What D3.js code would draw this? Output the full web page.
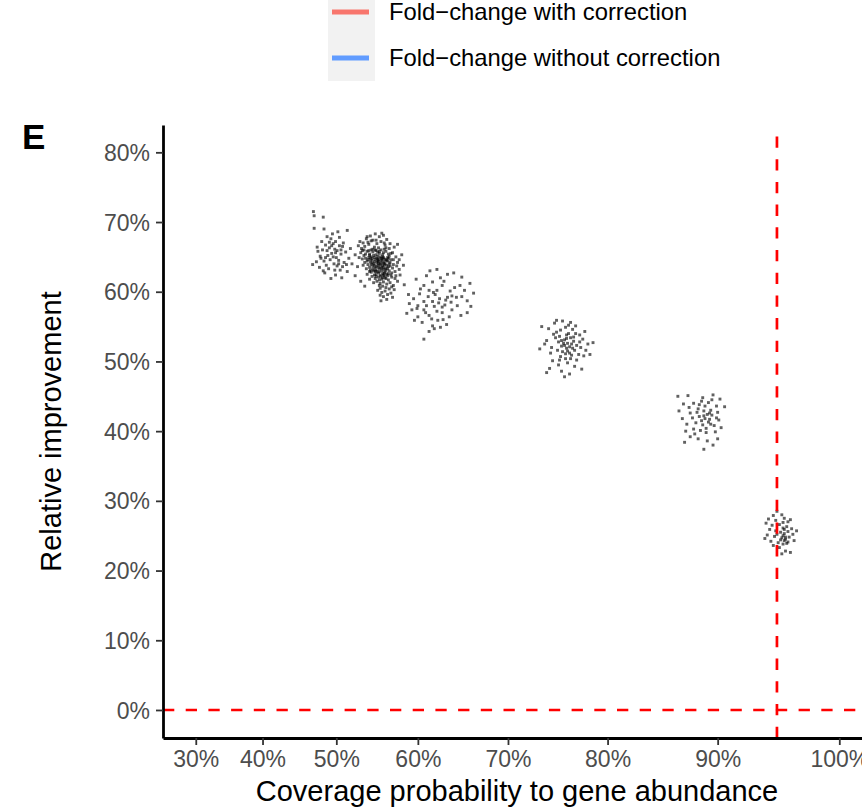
<!DOCTYPE html>
<html>
<head>
<meta charset="utf-8">
<script src="https://cdn.jsdelivr.net/npm/d3@7"></script>
<style>
  body { margin: 0; background: #fff; }
  text { font-family: "Liberation Sans", Arial, sans-serif; }
</style>
</head>
<body>
<div id="chart"></div>
<script>
const WIDTH = 862;
const HEIGHT = 808;

// x axis is exp-transformed (coverage, %), y is linear (improvement, %)
const xTicks = [30, 40, 50, 60, 70, 80, 90, 100];
const yTicks = [0, 10, 20, 30, 40, 50, 60, 70, 80];
const xLimits = [24.7, 102.45];
const yLimits = [-4.02, 83.92];
const refCoverage = 95;
const refImprovement = 0;

const legendItems = ["Fold\u2212change with correction", "Fold\u2212change without correction"];
const legendColors = ["#F8766D", "#619CFF"];

// [coverage %, relative improvement %], one array per cluster
const clusterA = [[47.0,71.5],[47.1,70.9],[48.3,70.7],[47.1,69.1],[48.4,69.0],[51.4,68.8],[48.8,67.9],[49.3,67.6],[49.9,67.2],[50.4,67.8],[49.6,66.9],[48.6,66.7],[50.8,66.5],[49.1,66.3],[49.8,66.1],[50.1,65.9],[48.2,66.0],[47.6,65.8],[51.2,65.7],[50.6,65.4],[49.4,65.5],[48.9,65.2],[47.9,65.1],[50.0,64.9],[51.6,64.8],[49.2,64.6],[48.4,64.4],[50.3,64.5],[51.0,64.2],[47.4,64.3],[49.7,64.0],[48.7,63.8],[50.8,63.6],[52.0,64.0],[49.0,63.3],[47.8,63.5],[50.5,63.1],[51.4,62.9],[48.5,62.7],[49.9,62.4],[48.1,67.2],[50.9,67.0],[47.5,66.4],[51.8,66.2],[49.5,68.3],[50.2,68.6],[48.0,64.8],[52.4,65.3],[46.9,63.9],[49.3,61.9],[50.7,62.0],[48.8,65.9],[49.6,65.0],[50.4,66.6],[51.3,63.9],[49.1,67.1],[48.3,63.0],[50.1,63.7],
  [49.4,66.6],[49.9,65.6],[50.6,66.0],[48.6,64.9],[49.8,63.1],[50.3,64.0]];

const clusterB = [[53.0,67.2],[53.4,67.0],[53.8,67.6],[54.3,68.0],[54.9,68.3],[55.4,67.9],[55.9,68.1],[56.3,67.5],[54.6,67.4],[53.6,66.5],[54.1,66.8],[55.1,66.9],[55.6,67.2],[56.1,66.7],[56.7,66.9],[54.8,66.4],[53.2,66.2],[55.3,66.3],[56.0,66.1],[54.4,66.0],[52.8,66.6],[57.2,66.4],[53.9,67.9],[55.7,68.4],
  [53.1,65.6],[53.5,65.2],[53.9,65.8],[54.2,65.4],[54.6,65.7],[55.0,65.9],[55.4,65.5],[55.8,65.3],[56.2,65.8],[56.6,65.1],[57.0,65.6],[53.7,64.8],[54.0,64.6],[54.4,65.0],[54.8,64.9],[55.2,65.1],[55.6,64.8],[56.0,64.7],[56.4,64.9],[56.8,64.6],[57.4,65.0],[52.9,64.9],[54.5,64.5],[55.3,64.6],[55.9,65.6],[54.1,65.9],[56.5,65.4],[53.3,64.7],
  [53.6,64.2],[54.0,63.9],[54.3,64.3],[54.7,64.0],[55.1,64.2],[55.5,63.9],[55.9,64.1],[56.3,63.8],[56.7,64.2],[57.1,63.9],[54.2,63.5],[54.6,63.2],[55.0,63.6],[55.4,63.3],[55.8,63.7],[56.2,63.4],[56.6,63.0],[57.0,63.4],[57.5,63.7],[53.8,63.3],[54.9,62.9],[55.3,62.7],[55.7,63.0],[56.1,62.8],[56.5,62.6],[57.3,62.9],[54.4,62.8],[55.2,64.4],[56.0,64.3],[54.8,63.8],[55.6,64.0],[56.4,64.4],[53.4,63.8],[57.8,63.2],[55.0,62.5],[55.9,62.4],
  [54.5,62.2],[54.9,61.9],[55.3,62.1],[55.7,61.8],[56.1,62.0],[56.5,61.7],[56.9,62.1],[57.3,61.9],[55.1,61.5],[55.5,61.2],[55.9,61.4],[56.3,61.1],[56.7,61.3],[57.1,60.9],[54.7,61.3],[55.8,60.8],[56.2,60.6],[57.6,61.5],[54.2,61.8],[56.0,62.3],[55.4,60.9],[56.6,60.4],[57.9,62.4],
  [55.2,60.2],[55.7,59.9],[56.1,60.1],[56.4,59.6],[55.9,59.3],[56.8,59.8],[55.5,59.5],[57.2,60.3],[56.3,58.9],[55.6,58.7],[57.0,59.2],
  [52.4,62.3],[53.1,61.5],[52.7,63.6],[58.3,63.8],[58.1,65.3],[57.6,66.8],[53.6,60.8],[58.4,61.0],
  [54.1,64.9],[54.5,64.1],[54.9,64.6],[55.3,64.0],[55.7,64.5],[56.1,64.0],[56.5,63.6],[55.0,63.1],[55.4,62.9],[55.8,62.6],[56.2,63.1],[54.6,63.6],[55.2,63.8],[55.6,63.5],[56.0,63.2],[55.1,64.8],[55.5,65.0],[54.7,65.2],[55.9,64.9],[56.3,64.5],[54.3,64.7],[53.9,64.4],[56.7,63.7],[56.9,62.7],[55.8,62.0],[55.4,61.7],[56.4,62.3],[54.8,62.4],[53.7,65.4],[54.9,66.0],[55.6,66.0],[56.2,66.3],[53.5,66.0],[54.0,67.1],[55.0,67.4],[56.6,66.2],[57.1,64.6],[57.6,64.2],[56.8,65.5],[54.2,62.9],[53.9,62.5],[55.5,60.5],[56.9,60.7],[57.4,62.3],[57.8,64.6],[53.3,65.9],[54.4,67.3],[56.0,67.0],[55.2,65.7],[54.6,66.1],
  [54.4,63.9],[54.8,64.3],[55.2,64.7],[55.6,64.3],[56.0,63.9],[56.4,63.3],[55.3,63.5],[55.7,63.3],[55.1,62.9],[55.5,62.4],[56.0,62.7],[56.3,62.5],[54.9,63.4],[54.5,64.8],[55.0,65.3],[55.4,65.8],[55.8,65.0],[56.2,64.6],[56.6,64.0],[55.9,63.5],[55.3,64.3],[54.7,63.0],[56.8,62.4],[55.6,62.2],[56.2,61.9],[55.0,62.2],[54.3,63.1],[55.7,64.7],[56.5,64.8],[54.2,65.2]];

const clusterC = [[62.2,63.2],[63.4,62.5],[65.0,62.1],[66.3,59.8],[61.7,61.4],[62.8,60.9],[60.7,60.9],[61.3,60.2],[62.2,60.2],[60.3,60.4],[59.5,59.0],[63.9,59.4],[65.0,59.3],[65.6,58.7],[63.4,59.2],[61.7,58.6],[60.7,58.6],[60.0,58.0],[62.8,57.8],[64.5,58.0],[65.6,57.0],[63.9,57.4],[62.2,57.2],[60.7,57.4],[59.3,57.4],[58.7,56.9],[60.0,56.4],[61.3,56.6],[62.8,57.0],[62.3,55.9],[61.7,55.1],[60.7,53.2],[61.3,54.3],
  [59.8,61.8],[61.0,62.3],[63.0,61.5],[64.2,60.6],[64.8,60.9],[60.2,59.7],[61.2,59.3],[62.5,59.0],[63.8,58.5],[61.9,57.9],[62.4,58.4],[63.1,58.1],[61.0,58.0],[59.0,58.3],[64.9,56.6],[66.0,57.9],[65.3,60.2],[63.6,56.4],[62.9,56.0],[60.5,55.6],[59.6,55.9],[61.9,54.7],[62.6,54.9],[63.3,55.3],[58.9,59.6],[64.1,62.7],[62.0,59.6],[60.9,57.0],[61.6,56.1],[62.6,62.0],[63.7,60.1],[64.4,59.2],[59.9,57.6],[65.9,61.2],[61.4,63.0],[63.2,58.8],[61.8,59.9]];

const clusterD = [[73.5,55.0],[73.3,51.8],[74.2,54.7],[74.0,53.0],[74.4,51.2],[74.8,55.5],[75.0,54.2],[75.3,53.6],[75.6,55.8],[75.9,54.9],[76.2,55.2],[76.6,54.6],[76.9,54.0],[77.3,53.8],[77.6,53.2],[78.1,52.5],[78.6,52.7],[75.2,52.8],[75.5,52.2],[75.8,53.1],[76.1,52.6],[76.4,53.4],[76.7,52.9],[77.0,52.3],[77.4,52.0],[75.1,51.6],[75.6,51.4],[76.0,51.9],[76.3,51.2],[76.8,51.6],[77.2,51.0],[75.4,50.7],[75.9,50.4],[76.5,50.9],[77.0,50.2],[77.7,50.8],[74.6,50.1],[75.2,49.5],[76.1,49.8],[76.8,49.3],[74.3,49.0],[75.5,48.6],[76.3,48.2],[74.0,48.4],[77.5,48.9],[75.8,47.8],[74.9,53.4],[76.0,53.8],[76.9,55.1],[75.4,54.5],[77.9,51.6],[78.3,51.0],[73.8,52.5],[74.5,52.0],[76.2,54.0],[75.7,52.6],[76.6,51.9],[75.9,51.1],[76.4,50.4],[75.3,50.2],[77.3,52.8],[74.7,53.9],[76.7,53.5],[77.8,54.3],[75.0,55.9],[76.4,55.6],
  [75.8,52.3],[76.3,52.1],[76.0,53.3],[75.5,53.0],[76.5,52.5],[76.1,51.5]];

const clusterE = [[86.5,45.0],[87.4,45.1],[89.6,45.2],[90.2,44.6],[87.0,43.9],[87.9,44.0],[88.6,44.3],[89.2,44.1],[89.9,43.6],[86.6,42.9],[87.6,42.6],[88.3,43.2],[88.8,42.9],[89.4,43.0],[90.0,42.7],[90.6,43.5],[87.8,41.9],[88.4,42.1],[88.9,41.8],[89.5,42.3],[90.1,41.6],[88.1,41.2],[88.7,40.9],[89.2,41.3],[89.7,40.8],[87.3,41.0],[87.9,40.3],[88.5,40.1],[89.0,39.8],[89.8,39.9],[87.6,39.2],[88.3,38.9],[89.1,38.6],[89.6,38.0],[87.1,38.4],[88.8,37.4],[88.9,43.6],[89.3,42.6],[88.6,41.5],[89.9,41.9],[88.2,42.7],[89.0,40.4],[87.5,43.4],[90.3,40.5],[88.7,44.8],[86.9,41.8],[89.5,44.5],[88.0,39.6],[90.0,38.9],[89.4,41.0],[88.4,43.8],[87.2,40.0],
  [89.1,42.4],[88.8,42.2],[89.3,41.7]];

const clusterF = [[95.0,28.5],[94.7,27.9],[95.4,28.0],[94.3,27.4],[94.9,27.2],[95.6,27.5],[95.9,27.0],[94.1,26.8],[94.6,26.5],[95.2,26.6],[95.5,26.1],[95.8,26.3],[96.2,26.0],[94.4,25.9],[94.9,25.7],[95.3,25.5],[95.6,25.3],[95.9,25.6],[96.3,25.2],[94.2,25.1],[94.8,24.9],[95.4,24.7],[95.7,24.5],[96.0,24.8],[96.4,24.3],[94.5,24.2],[95.1,24.0],[95.5,23.8],[95.8,23.9],[95.2,23.3],[95.7,22.8],[96.1,22.6],[95.4,22.4],[94.0,24.6],[96.6,25.7],[95.0,25.2],[95.6,25.9],[95.3,24.4],[95.9,24.1],[94.7,23.6],[95.5,26.9],[96.1,27.3],
  [95.5,25.0],[95.7,24.8],[95.6,24.3]];

const allPoints = [].concat(clusterA, clusterB, clusterC, clusterD, clusterE, clusterF);

const margin = { top: 125, right: -9, bottom: 70, left: 163 };

const svg = d3.select("#chart")
    .append("svg")
    .attr("width", WIDTH)
    .attr("height", HEIGHT)
    .style("background", "#fff");

const xT = d3.scaleLinear()
    .domain(xLimits.map(v => Math.exp(v / 100)))
    .range([margin.left, WIDTH - margin.right]);
const x = v => xT(Math.exp(v / 100));

const y = d3.scaleLinear()
    .domain(yLimits)
    .range([HEIGHT - margin.bottom, margin.top]);

// points
const ps = 2.9;
svg.append("g")
    .selectAll("rect")
    .data(allPoints)
    .enter().append("rect")
    .attr("x", d => x(d[0]) - ps / 2)
    .attr("y", d => y(d[1]) - ps / 2)
    .attr("width", ps)
    .attr("height", ps)
    .attr("fill", "#000")
    .attr("fill-opacity", 0.62);

// reference lines
svg.append("line")
    .attr("x1", x(refCoverage)).attr("x2", x(refCoverage))
    .attr("y1", y(yLimits[0])).attr("y2", y(yLimits[1]))
    .attr("stroke", "#FF0000")
    .attr("stroke-width", 2.7)
    .attr("stroke-dasharray", "11.3,11.4");

svg.append("line")
    .attr("x1", x(xLimits[0])).attr("x2", x(xLimits[1]))
    .attr("y1", y(refImprovement)).attr("y2", y(refImprovement))
    .attr("stroke", "#FF0000")
    .attr("stroke-width", 2.7)
    .attr("stroke-dasharray", "11.3,11.4");

// axes
const xAxis = svg.append("g")
    .attr("transform", `translate(0,${y(yLimits[0])})`)
    .call(d3.axisBottom(xT)
        .tickValues(xTicks.map(t => Math.exp(t / 100)))
        .tickFormat((d, i) => xTicks[i] + "%")
        .tickSize(7)
        .tickSizeOuter(0)
        .tickPadding(6));

const yAxis = svg.append("g")
    .attr("transform", `translate(${x(xLimits[0])},0)`)
    .call(d3.axisLeft(y)
        .tickValues(yTicks)
        .tickFormat(d => d + "%")
        .tickSize(7)
        .tickSizeOuter(0)
        .tickPadding(6));

[xAxis, yAxis].forEach(function(g) {
    g.select(".domain").attr("stroke", "#000").attr("stroke-width", 2.8);
    g.selectAll(".tick line").attr("stroke", "#333").attr("stroke-width", 1.8);
    g.selectAll(".tick text")
        .attr("fill", "#4D4D4D")
        .style("font-family", "'Liberation Sans', Arial, sans-serif")
        .style("font-size", "23px");
});
yAxis.selectAll(".tick text").attr("dy", "0.35em");

// axis titles
svg.append("text")
    .attr("x", (x(xLimits[0]) + x(xLimits[1])) / 2)
    .attr("y", 801)
    .attr("text-anchor", "middle")
    .style("font-size", "29px")
    .attr("fill", "#000")
    .text("Coverage probability to gene abundance");

svg.append("text")
    .attr("transform", `translate(61,${(y(yLimits[0]) + y(yLimits[1])) / 2}) rotate(-90)`)
    .attr("text-anchor", "middle")
    .style("font-size", "29px")
    .attr("fill", "#000")
    .text("Relative improvement");

// panel tag
svg.append("text")
    .attr("x", 22)
    .attr("y", 149)
    .style("font-size", "35px")
    .style("font-weight", "bold")
    .attr("fill", "#000")
    .text("E");

// legend (from neighbouring panel)
const legend = svg.append("g");
legend.append("rect")
    .attr("x", 328).attr("y", -10)
    .attr("width", 47).attr("height", 91)
    .attr("fill", "#F2F2F2");

legend.selectAll("line.key")
    .data(legendItems)
    .enter().append("line")
    .attr("class", "key")
    .attr("x1", 332).attr("x2", 369)
    .attr("y1", (d, i) => 12 + i * 46)
    .attr("y2", (d, i) => 12 + i * 46)
    .attr("stroke", (d, i) => legendColors[i])
    .attr("stroke-width", 5);

legend.selectAll("text.lab")
    .data(legendItems)
    .enter().append("text")
    .attr("class", "lab")
    .attr("x", 389)
    .attr("y", (d, i) => 20 + i * 46)
    .style("font-size", "23.8px")
    .attr("fill", "#000")
    .text(d => d);
</script>
</body>
</html>
